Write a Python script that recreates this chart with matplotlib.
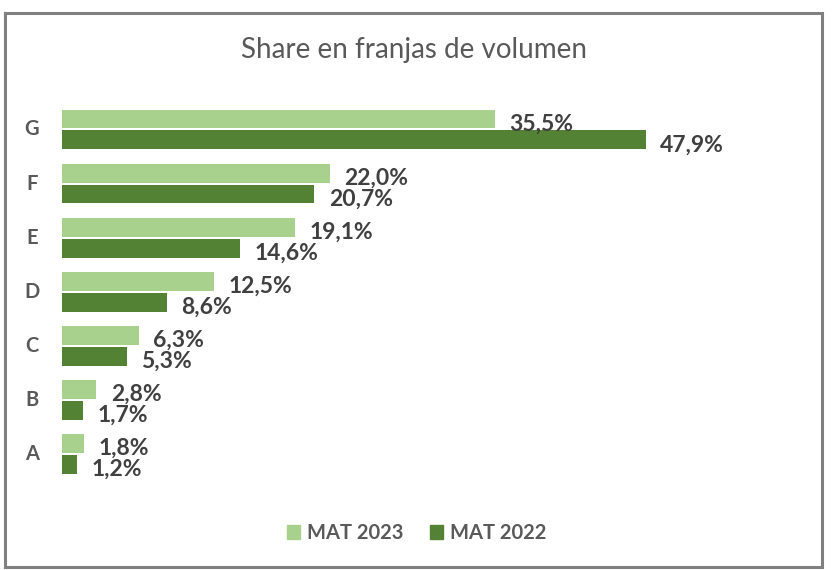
import matplotlib
matplotlib.use("Agg")
import matplotlib.pyplot as plt
from matplotlib.patches import Rectangle, Patch
import numpy as np

plt.rcParams['font.family'] = ['Lato', 'DejaVu Sans']

categories = ['A', 'B', 'C', 'D', 'E', 'F', 'G']
mat_2023 = [1.8, 2.8, 6.3, 12.5, 19.1, 22.0, 35.5]
mat_2022 = [1.2, 1.7, 5.3, 8.6, 14.6, 20.7, 47.9]
series_names = ['MAT 2023', 'MAT 2022']
colors = ['#A9D18E', '#548235']

W, H = 832, 570
fig = plt.figure(figsize=(W / 100, H / 100), dpi=100)

# frame
fig.patches.append(Rectangle((5 / W, 1 - 567 / H), (822 - 5) / W, (567 - 13) / H,
                             transform=fig.transFigure, fill=False,
                             edgecolor='#808080', linewidth=2.2))

ax = fig.add_axes([62 / W, (570 - 481) / H, 731 / W, 378.6 / H])
y = np.arange(len(categories))
h = 0.35
off = 0.193
b1 = ax.barh(y + off, mat_2023, height=h, color=colors[0], label=series_names[0])
b2 = ax.barh(y - off, mat_2022, height=h, color=colors[1], label=series_names[1])

ax.set_xlim(0, 60)
ax.set_ylim(-0.5, 6.5)
ax.axis('off')

def fmt(v):
    return f"{v:.1f}".replace('.', ',') + '%'

for bars, vals in ((b1, mat_2023), (b2, mat_2022)):
    for rect, v in zip(bars, vals):
        ax.annotate(fmt(v), (rect.get_width(), rect.get_y() + rect.get_height() / 2),
                    xytext=(10.5, -3.5), textcoords='offset points',
                    ha='left', va='center', fontsize=16.5, fontweight='bold',
                    color='#404040')

for yi, c in zip(y, categories):
    ax.text(-30 / 731, yi, c, transform=ax.get_yaxis_transform(),
            ha='center', va='center', fontsize=14.5, fontweight='bold', color='#595959')

fig.text(414 / W, 1 - 50 / H, 'Share en franjas de volumen', ha='center', va='center',
         fontsize=20, color='#595959')

handles = [Patch(color=colors[0]), Patch(color=colors[1])]
leg = fig.legend(handles, series_names, loc='center', bbox_to_anchor=(417 / W, 1 - 533 / H),
                 ncol=2, frameon=False, handlelength=0.65, handleheight=0.65,
                 handletextpad=0.35, columnspacing=1.3,
                 prop={'weight': 'bold', 'size': 14.5})
for t in leg.get_texts():
    t.set_color('#595959')

fig.savefig('out.png', dpi=100)
